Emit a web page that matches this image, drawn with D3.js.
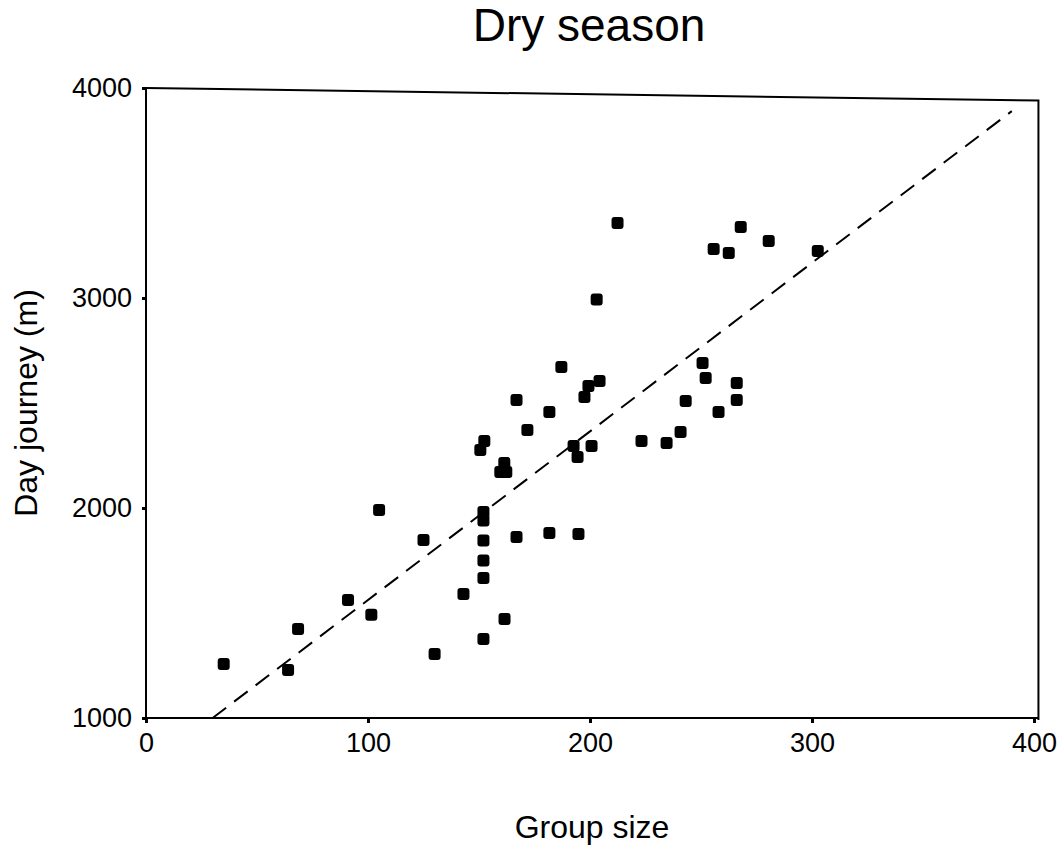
<!DOCTYPE html>
<html>
<head>
<meta charset="utf-8">
<script src="https://cdn.jsdelivr.net/npm/d3@7"></script>
<style>
  html, body { margin: 0; padding: 0; background: #fff; }
  svg { display: block; font-family: "Liberation Sans", Arial, Helvetica, sans-serif; }
</style>
</head>
<body>
<svg id="chart" width="1063" height="849"></svg>
<script>
// ---- data ----
const groupSize = [35, 64, 68.5, 91, 101.5, 105, 125, 130, 143, 152, 152, 152, 152, 152, 152, 161.5,
  150.6, 152.4, 159.6, 162.3, 161.4, 166.9, 166.9, 171.8, 181.7, 181.7, 187.1, 192.6, 194.4, 194.8,
  197.5, 199.3, 200.7, 203, 204.3, 212.4, 223.2, 234.5, 240.8, 243.1, 250.7, 252.1, 255.7, 257.9,
  262.5, 266.1, 266.1, 267.9, 280.5, 302.6];
const dayJourney = [1257, 1229, 1424, 1562, 1492, 1990, 1848, 1305, 1590, 1376, 1667, 1750, 1845, 1940, 1981, 1471,
  2276, 2319, 2171, 2171, 2214, 1862, 2514, 2371, 1881, 2457, 2671, 2295, 2243, 1876,
  2529, 2581, 2295, 2993, 2605, 3357, 2319, 2310, 2362, 2510, 2690, 2619, 3233, 2457,
  3214, 2595, 2514, 3338, 3271, 3224];
const fitX = [30, 390];
const fitY = [1000, 3890];
const xTicks = [0, 100, 200, 300, 400];
const yTicks = [1000, 2000, 3000, 4000];
const titleText = "Dry season";
const xLabel = "Group size";
const yLabel = "Day journey (m)";

// ---- layout ----
const svg = d3.select("#chart");
const x = d3.scaleLinear().domain([0, 400]).range([146, 1034]);
const y = d3.scaleLinear().domain([1000, 4000]).range([718, 88]);

// frame (top/right edges)
svg.append("path")
  .attr("d", d3.line()([[x(0), y(4000)], [x(402), y(3940)], [x(402), y(1000) + 2]]))
  .attr("fill", "none").attr("stroke", "#000").attr("stroke-width", 2);

// x axis
const xAxis = svg.append("g")
  .attr("transform", `translate(0,${y(1000)})`)
  .call(d3.axisBottom(x).tickValues(xTicks).tickSize(5).tickPadding(10).tickFormat(d3.format("d")));
xAxis.select(".domain").attr("stroke-width", 2).attr("d", `M${x(0)},0H${x(402)}`);
xAxis.selectAll(".tick line").attr("stroke-width", 3);
xAxis.selectAll(".tick text").attr("font-size", 27).attr("fill", "#000")
  .attr("font-family", "Liberation Sans, Arial, sans-serif");

// y axis
const yAxis = svg.append("g")
  .attr("transform", `translate(${x(0)},0)`)
  .call(d3.axisLeft(y).tickValues(yTicks).tickSize(4).tickPadding(10).tickFormat(d3.format("d")));
yAxis.select(".domain").attr("stroke-width", 2).attr("d", `M0,${y(4000)}V${y(1000) + 2}`);
yAxis.selectAll(".tick line").attr("stroke-width", 3);
yAxis.selectAll(".tick text").attr("font-size", 27).attr("fill", "#000")
  .attr("font-family", "Liberation Sans, Arial, sans-serif");

// regression line
svg.append("path")
  .attr("d", d3.line().x(d => x(d[0])).y(d => y(d[1]))(fitX.map((v, i) => [v, fitY[i]])))
  .attr("fill", "none").attr("stroke", "#000").attr("stroke-width", 2)
  .attr("stroke-dasharray", "17,10");

// points
const pts = groupSize.map((g, i) => ({ g, d: dayJourney[i] }));
const s = 12;
svg.append("g").selectAll("rect").data(pts).join("rect")
  .attr("x", d => x(d.g) - s / 2)
  .attr("y", d => y(d.d) - s / 2)
  .attr("width", s).attr("height", s).attr("rx", 3).attr("ry", 3)
  .attr("fill", "#000");

// titles
svg.append("text").attr("x", 589).attr("y", 41).attr("text-anchor", "middle")
  .attr("font-size", 46).text(titleText);
svg.append("text").attr("x", 592).attr("y", 838).attr("text-anchor", "middle")
  .attr("font-size", 32).text(xLabel);
svg.append("text").attr("transform", `translate(37,${(y(1000) + y(4000)) / 2}) rotate(-90)`)
  .attr("text-anchor", "middle").attr("font-size", 32).text(yLabel);
</script>
</body>
</html>
